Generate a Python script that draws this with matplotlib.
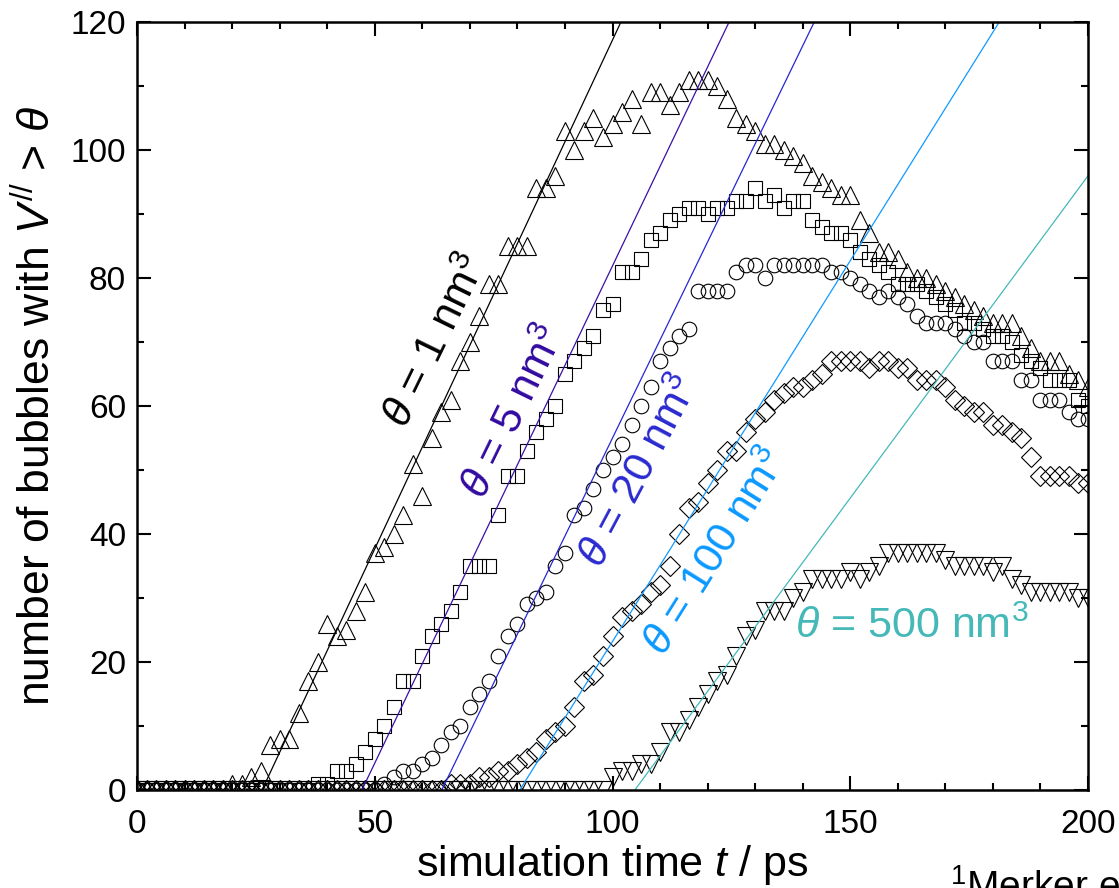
import numpy as np
import matplotlib
matplotlib.use('Agg')
import matplotlib.pyplot as plt
from matplotlib.ticker import MultipleLocator

plt.rcParams['font.family'] = 'Liberation Sans'
plt.rcParams['mathtext.fontset'] = 'custom'
plt.rcParams['mathtext.rm'] = 'Liberation Sans'
plt.rcParams['mathtext.it'] = 'Liberation Sans:italic'

#simulation time in ps, one snapshot every 2 ps
t = np.arange(0, 201, 2)

#number of bubbles larger than the threshold volume theta
n_1nm = [0]*10 + [1, 1, 2, 3, 7, 8, 8, 12, 17, 20,
         26, 24, 25, 28, 31, 37, 38, 40, 43, 51,
         46, 55, 59, 61, 67, 70, 74, 79, 79, 85,
         85, 85, 94, 94, 96, 103, 100, 103, 105, 102,
         104, 106, 108, 104, 109, 109, 107, 109, 111, 111,
         111, 110, 108, 105, 104, 103, 101, 101, 100, 99,
         98, 96, 95, 94, 93, 93, 89, 87, 84, 84,
         83, 81, 80, 80, 79, 78, 77, 76, 75, 74,
         73, 73, 73, 71, 69, 67, 67, 67, 65, 64, 63]
n_5nm = [0]*19 + [1, 1, 3, 3, 4, 6, 8, 10, 13, 17,
         17, 21, 24, 26, 28, 31, 35, 35, 35, 43,
         49, 49, 53, 56, 58, 60, 65, 67, 69, 71,
         75, 76, 81, 81, 83, 86, 87, 89, 90, 91,
         91, 90, 91, 91, 92, 92, 94, 92, 93, 91,
         92, 92, 89, 88, 87, 87, 86, 84, 83, 82,
         81, 79, 79, 79, 78, 77, 76, 75, 73, 73,
         72, 71, 71, 70, 68, 67, 66, 64, 64, 64, 61, 60]
n_20nm = [0]*26 + [1, 2, 3, 3, 4, 5, 7, 9, 10, 13,
          15, 17, 21, 24, 26, 29, 30, 31, 35, 37,
          43, 44, 47, 50, 52, 54, 57, 60, 63, 67,
          69, 71, 72, 78, 78, 78, 78, 81, 82, 82,
          80, 82, 82, 82, 82, 82, 82, 81, 81, 80,
          79, 78, 77, 78, 77, 76, 74, 73, 73, 73,
          72, 71, 70, 70, 67, 67, 67, 64, 64, 61,
          61, 61, 59, 58, 58]
n_100nm = [0]*33 + [1, 1, 1, 2, 2, 3, 3, 4, 5, 6,
           8, 9, 10, 13, 17, 18, 21, 24, 27, 28,
           29, 31, 32, 35, 40, 44, 45, 48, 50, 53,
           53, 56, 58, 59, 61, 62, 63, 63, 64, 65,
           67, 67, 67, 67, 66, 67, 67, 66, 66, 64,
           64, 64, 63, 61, 60, 59, 59, 57, 57, 56,
           55, 52, 49, 49, 49, 49, 48, 48]
n_500nm = [0]*50 + [2, 3, 3, 4, 4, 6, 9, 9, 11, 13,
           15, 17, 18, 21, 24, 25, 28, 28, 28, 30,
           31, 33, 33, 33, 33, 34, 33, 34, 35, 37,
           37, 37, 37, 37, 37, 36, 35, 35, 35, 35,
           34, 35, 33, 32, 31, 31, 31, 31, 31, 30, 30]
series = [n_1nm, n_5nm, n_20nm, n_100nm, n_500nm]
markers = ['^', 's', 'o', 'D', 'v']
marker_sizes = [13, 9.5, 10.5, 10, 13]

#linear fits of the growth phase: onset time (ps) and rate (bubbles per ps)
fit_onset = [26.3, 47.3, 64.1, 80.5, 104.7]
fit_rate = [1.59, 1.554, 1.532, 1.19, 1.007]
fit_colors = ['black', '#3a10a8', '#2626d6', '#1199ff', '#45b8b8']

labels = [r'$\theta$ = 1 nm$^3$', r'$\theta$ = 5 nm$^3$', r'$\theta$ = 20 nm$^3$',
          r'$\theta$ = 100 nm$^3$', r'$\theta$ = 500 nm$^3$']
label_colors = ['black', '#330aa0', '#2a2ad0', '#0a99ff', '#45b8b8']
label_x = [63, 79.5, 105.8, 122, 138.4]
label_y = [70, 59, 49.7, 37, 25.5]
label_rot = [64, 64, 62, 58, 0]

fig = plt.figure(figsize=(11.19, 8.88), dpi=100)
ax = fig.add_axes([137/1119, 1 - 790/888, (1088 - 137)/1119, (790 - 22)/888])

for n, m, ms in zip(series, markers, marker_sizes):
    ax.plot(t, n, linestyle='none', marker=m, markersize=ms,
            markerfacecolor='none', markeredgecolor='black', markeredgewidth=0.8)

for t0, k, c in zip(fit_onset, fit_rate, fit_colors):
    ax.plot([t0, 200], [0, k*(200 - t0)], color=c, linewidth=0.9)

for s, c, x, y, r in zip(labels, label_colors, label_x, label_y, label_rot):
    ha = 'left' if r == 0 else 'center'
    ax.text(x, y, s, color=c, fontsize=31, rotation=r, ha=ha, va='center',
            rotation_mode='anchor')

ax.set_xlim(0, 200)
ax.set_ylim(0, 120)
ax.xaxis.set_major_locator(MultipleLocator(50))
ax.xaxis.set_minor_locator(MultipleLocator(10))
ax.yaxis.set_major_locator(MultipleLocator(20))
ax.yaxis.set_minor_locator(MultipleLocator(10))
ax.tick_params(which='both', direction='in', top=True, right=True, width=1.5)
ax.tick_params(which='major', length=10, labelsize=24)
ax.tick_params(which='minor', length=5)
ax.tick_params(axis='x', which='major', pad=14)
ax.tick_params(axis='y', which='major', pad=8)
for sp in ax.spines.values():
    sp.set_linewidth(1.8)

ax.set_xlabel('simulation time $t$ / ps', fontsize=31, labelpad=2)
ax.set_ylabel(r'number of bubbles with $V^{//}$ > $\theta$', fontsize=32, labelpad=8)

fig.text(950/1119, -0.012, '$^1$Merker et al.', fontsize=28, ha='left', va='baseline')

fig.savefig('out.png', dpi=100)
